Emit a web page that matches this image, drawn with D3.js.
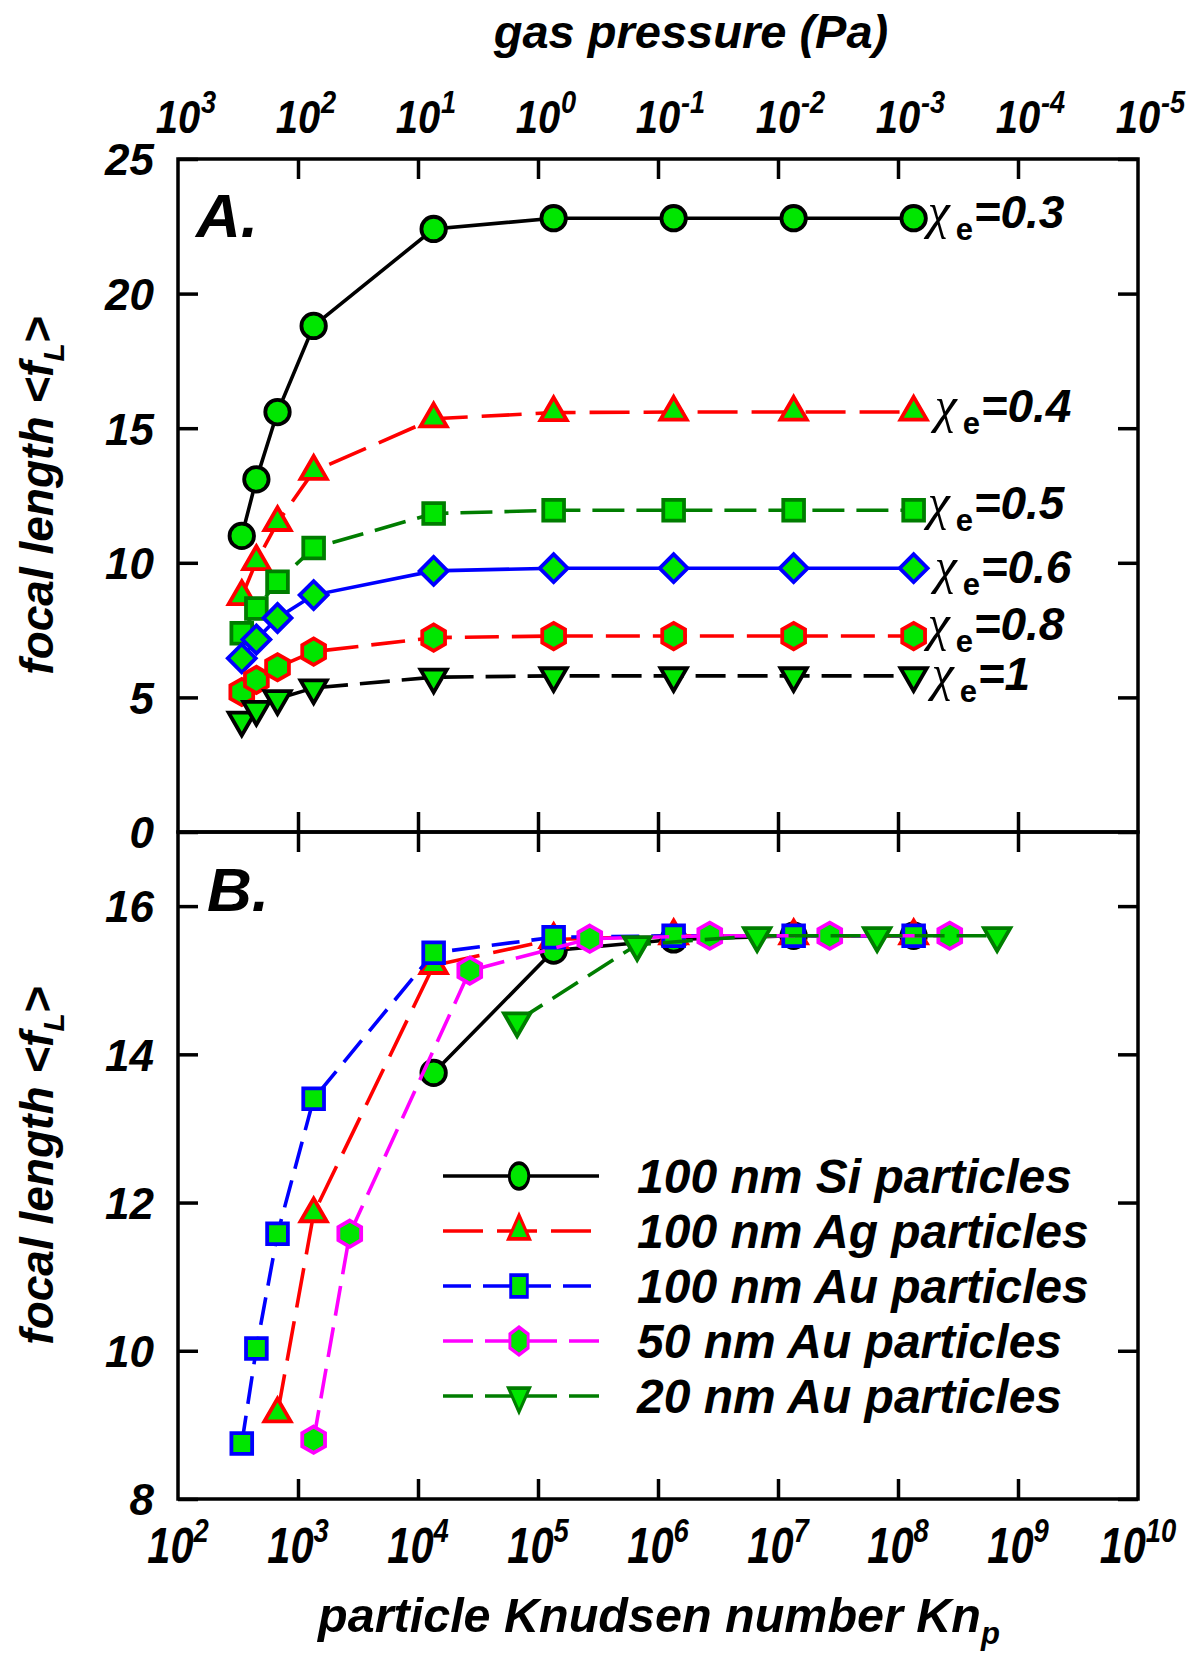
<!DOCTYPE html>
<html>
<head>
<meta charset="utf-8">
<script src="https://cdn.jsdelivr.net/npm/d3@7"></script>
<style>
  body { margin: 0; background: #fff; }
  text { font-family: "Liberation Sans", Arial, sans-serif; font-weight: bold; font-style: italic; fill: #000; }
</style>
</head>
<body>
<script>
// ---- data ----
// Panel A: particle Knudsen numbers and mean focal length for each chi_e
const knA = [340, 450, 675, 1350, 13500, 135000, 1350000, 13500000, 135000000];
const chiValues = ["0.3", "0.4", "0.5", "0.6", "0.8", "1"];
const fChi03 = [11.0, 13.1, 15.6, 18.8, 22.4, 22.8, 22.8, 22.8, 22.8];
const fChi04 = [8.75, 10.05, 11.5, 13.4, 15.35, 15.58, 15.6, 15.6, 15.6];
const fChi05 = [7.38, 8.3, 9.3, 10.55, 11.83, 11.95, 11.95, 11.95, 11.95];
const fChi06 = [6.45, 7.15, 7.95, 8.8, 9.7, 9.8, 9.8, 9.8, 9.8];
const fChi08 = [5.2, 5.65, 6.12, 6.7, 7.22, 7.28, 7.28, 7.28, 7.28];
const fChi10 = [4.15, 4.55, 4.95, 5.35, 5.75, 5.8, 5.8, 5.8, 5.8];

// Panel B: particle material / size
const legendLabels = ["100 nm Si particles", "100 nm Ag particles", "100 nm Au particles", "50 nm Au particles", "20 nm Au particles"];
const knSi100 = [13500, 135000, 1350000, 13500000, 135000000];
const fSi100 = [13.75, 15.4, 15.55, 15.6, 15.6];
const knAg100 = [675, 1350, 13500, 135000, 1350000, 13500000, 135000000];
const fAg100 = [9.15, 11.85, 15.2, 15.55, 15.6, 15.6, 15.6];
const knAu100 = [340, 450, 675, 1350, 13500, 135000, 1350000, 13500000, 135000000];
const fAu100 = [8.75, 10.03, 11.58, 13.4, 15.37, 15.58, 15.6, 15.6, 15.6];
const knAu50 = [1350, 2700, 27000, 270000, 2700000, 27000000, 270000000];
const fAu50 = [8.8, 11.58, 15.13, 15.56, 15.6, 15.6, 15.6];
const knAu20 = [67000, 670000, 6700000, 67000000, 670000000];
const fAu20 = [14.45, 15.48, 15.6, 15.6, 15.6];

// Axis ticks
const yTicksA = [0, 5, 10, 15, 20, 25];
const yTicksB = [8, 10, 12, 14, 16];
const knExponents = [2, 3, 4, 5, 6, 7, 8, 9, 10];
const pressureExponents = [3, 2, 1, 0, -1, -2, -3, -4, -5];

// ---- layout ----
const W = 1193, H = 1662;
const L = 178, R = 1138, TOP_A = 159, MID = 832, BOT_B = 1499;
const GREEN = "#00e600", DKGREEN = "#007d00";

const svg = d3.select("body").append("svg")
  .attr("width", W).attr("height", H)
  .style("display", "block").style("background", "#fff");

const x = d3.scaleLog().domain([1e2, 1e10]).range([L, R]);
const xP = d3.scaleLog().domain([1e3, 1e-5]).range([L, R]);
const yA = d3.scaleLinear().domain([0, 25]).range([MID, TOP_A]);
const yB = d3.scaleLinear().domain([8, 17]).range([BOT_B, MID]);

// ---- marker shapes ----
const symbolHexagon = {
  draw(ctx, size) {
    const r = Math.sqrt(size / (3 * Math.sqrt(3) / 2));
    for (let i = 0; i < 6; i++) {
      const a = (-90 + 60 * i) * Math.PI / 180;
      const px = r * Math.cos(a), py = r * Math.sin(a);
      if (i === 0) ctx.moveTo(px, py); else ctx.lineTo(px, py);
    }
    ctx.closePath();
  }
};
const markerDefs = {
  circle:       { type: d3.symbolCircle,   size: 470, rot: 0 },
  triangle:     { type: d3.symbolTriangle, size: 300, rot: 0 },
  square:       { type: d3.symbolSquare,   size: 430, rot: 0 },
  diamond:      { type: d3.symbolSquare,   size: 390, rot: 45 },
  hexagon:      { type: symbolHexagon,     size: 450, rot: 0 },
  triangleDown: { type: d3.symbolTriangle, size: 300, rot: 180 }
};
function markerPath(kind) {
  const m = markerDefs[kind];
  return d3.symbol().type(m.type).size(m.size)();
}

const seriesA = [
  { kn: knA, f: fChi03, kind: "circle",       color: "#000000", dash: null },
  { kn: knA, f: fChi04, kind: "triangle",     color: "#ff0000", dash: "40,14" },
  { kn: knA, f: fChi05, kind: "square",       color: DKGREEN,   dash: "32,12" },
  { kn: knA, f: fChi06, kind: "diamond",      color: "#0000ff", dash: null },
  { kn: knA, f: fChi08, kind: "hexagon",      color: "#ff0000", dash: "34,13" },
  { kn: knA, f: fChi10, kind: "triangleDown", color: "#000000", dash: "30,12" }
];
const seriesB = [
  { kn: knSi100, f: fSi100, kind: "circle",       color: "#000000", dash: null },
  { kn: knAg100, f: fAg100, kind: "triangle",     color: "#ff0000", dash: "40,14" },
  { kn: knAu100, f: fAu100, kind: "square",       color: "#0000ff", dash: "28,12" },
  { kn: knAu50,  f: fAu50,  kind: "hexagon",      color: "#ff00ff", dash: "30,12" },
  { kn: knAu20,  f: fAu20,  kind: "triangleDown", color: DKGREEN,   dash: "30,12" }
];

function drawSeries(g, list, yScale) {
  list.forEach(s => {
    const pts = s.kn.map((k, i) => [k, s.f[i]]);
    const line = d3.line().x(d => x(d[0])).y(d => yScale(d[1]));
    g.append("path").attr("d", line(pts))
      .attr("fill", "none").attr("stroke", s.color).attr("stroke-width", 3.6)
      .attr("stroke-dasharray", s.dash);
    g.selectAll(null).data(pts).join("path")
      .attr("d", markerPath(s.kind))
      .attr("transform", d => `translate(${x(d[0])},${yScale(d[1])}) rotate(${markerDefs[s.kind].rot})`)
      .attr("fill", GREEN).attr("stroke", s.color).attr("stroke-width", 3.8)
      .attr("stroke-linejoin", "miter");
  });
}

// ---- frames and ticks ----
const innerDecades = knExponents.slice(1, -1).map(e => Math.pow(10, e));
function styleAxis(g) {
  g.select(".domain").remove();
  g.selectAll(".tick line").attr("stroke", "#000").attr("stroke-width", 3.5);
}
function xTicks(yPos, gen) {
  svg.append("g").attr("transform", `translate(0,${yPos})`)
    .call(gen(x).tickValues(innerDecades).tickSize(-20).tickFormat(""))
    .call(styleAxis);
}
xTicks(TOP_A, d3.axisTop);
xTicks(MID, d3.axisBottom);
xTicks(MID, d3.axisTop);
xTicks(BOT_B, d3.axisBottom);

function yAxes(yScale, ticks) {
  const gl = svg.append("g").attr("transform", `translate(${L},0)`)
    .call(d3.axisLeft(yScale).tickValues(ticks).tickSize(-20).tickPadding(24).tickFormat(d => d))
    .call(styleAxis);
  gl.selectAll(".tick text")
    .attr("font-family", null).attr("font-size", null)
    .style("font-size", "44px").attr("fill", "#000").attr("dy", "0.36em");
  svg.append("g").attr("transform", `translate(${R},0)`)
    .call(d3.axisRight(yScale).tickValues(ticks).tickSize(-20).tickFormat(""))
    .call(styleAxis);
}
yAxes(yA, yTicksA);
yAxes(yB, yTicksB);

// ---- curves ----
drawSeries(svg.append("g"), seriesA, yA);
drawSeries(svg.append("g"), seriesB, yB);

// frame rectangles
[[TOP_A, MID], [MID, BOT_B]].forEach(([t, b]) => {
  svg.append("rect").attr("x", L).attr("y", t).attr("width", R - L).attr("height", b - t)
    .attr("fill", "none").attr("stroke", "#000").attr("stroke-width", 3.5);
});

// ---- decade labels ----
// Knudsen number, bottom
knExponents.forEach(e => {
  const t = svg.append("g").attr("transform", `translate(${x(Math.pow(10, e))},1563) scale(0.83,1)`)
    .append("text").attr("text-anchor", "middle").style("font-size", "50px");
  t.append("tspan").text("10");
  t.append("tspan").attr("dy", -21).style("font-size", "33px").text(e);
});
// gas pressure, top
pressureExponents.forEach(p => {
  const g = svg.append("g").attr("transform", `translate(${xP(Math.pow(10, p))},133) scale(0.85,1)`);
  const base = g.append("text").attr("text-anchor", "middle").style("font-size", "47px").text("10");
  const w = base.node().getComputedTextLength();
  g.append("text").attr("x", w / 2 + 1).attr("y", -20).style("font-size", "32px").text(p);
});

// ---- axis titles ----
svg.append("text").attr("x", 691).attr("y", 48).attr("text-anchor", "middle")
  .style("font-size", "47px").text("gas pressure (Pa)");

const bt = svg.append("text").attr("x", 659).attr("y", 1632).attr("text-anchor", "middle").style("font-size", "48.5px");
bt.append("tspan").text("particle Knudsen number Kn");
bt.append("tspan").attr("dy", 12).style("font-size", "31px").text("p");

[(TOP_A + MID) / 2, (MID + BOT_B) / 2].forEach(cy => {
  const t = svg.append("text").attr("transform", `translate(53,${cy}) rotate(-90)`)
    .attr("text-anchor", "middle").style("font-size", "46px");
  t.append("tspan").text("focal length <f");
  t.append("tspan").attr("dy", 11).style("font-size", "30px").text("L");
  t.append("tspan").attr("dy", -11).text(">");
});

// panel letters
svg.append("text").attr("x", 196).attr("y", 237).style("font-size", "62px").text("A.");
svg.append("text").attr("x", 207).attr("y", 911).style("font-size", "62px").text("B.");

// ---- chi_e labels beside the last marker of each curve ----
const chiOffsets = [[14, 10], [21, 10], [14, 9], [21, 15], [14, 4], [18, 14]];
seriesA.forEach((s, i) => {
  const n = s.kn.length - 1;
  const x0 = x(s.kn[n]) + chiOffsets[i][0];
  const y0 = yA(s.f[n]) + chiOffsets[i][1];
  const g = svg.append("g");
  g.append("text").attr("x", x0).attr("y", y0)
    .style("font-family", "'Liberation Serif', 'DejaVu Serif', serif")
    .style("font-weight", "normal").style("font-size", "50px").text("χ");
  g.append("text").attr("x", x0 + 28).attr("y", y0 + 12)
    .style("font-style", "normal").style("font-size", "31px").text("e");
  g.append("text").attr("x", x0 + 46).attr("y", y0)
    .style("font-size", "46px").text("=" + chiValues[i]);
});

// ---- legend (panel B) ----
seriesB.forEach((s, i) => {
  const ly = 1176 + i * 55;
  svg.append("line").attr("x1", 443).attr("x2", 599).attr("y1", ly).attr("y2", ly)
    .attr("stroke", s.color).attr("stroke-width", 3.6).attr("stroke-dasharray", s.dash);
  svg.append("path").attr("d", markerPath(s.kind))
    .attr("transform", `translate(519,${ly}) scale(0.8,1.05) rotate(${markerDefs[s.kind].rot})`)
    .attr("fill", GREEN).attr("stroke", s.color).attr("stroke-width", 3.6);
  svg.append("text").attr("x", 637).attr("y", ly + 17).style("font-size", "48px").text(legendLabels[i]);
});
</script>
</body>
</html>
